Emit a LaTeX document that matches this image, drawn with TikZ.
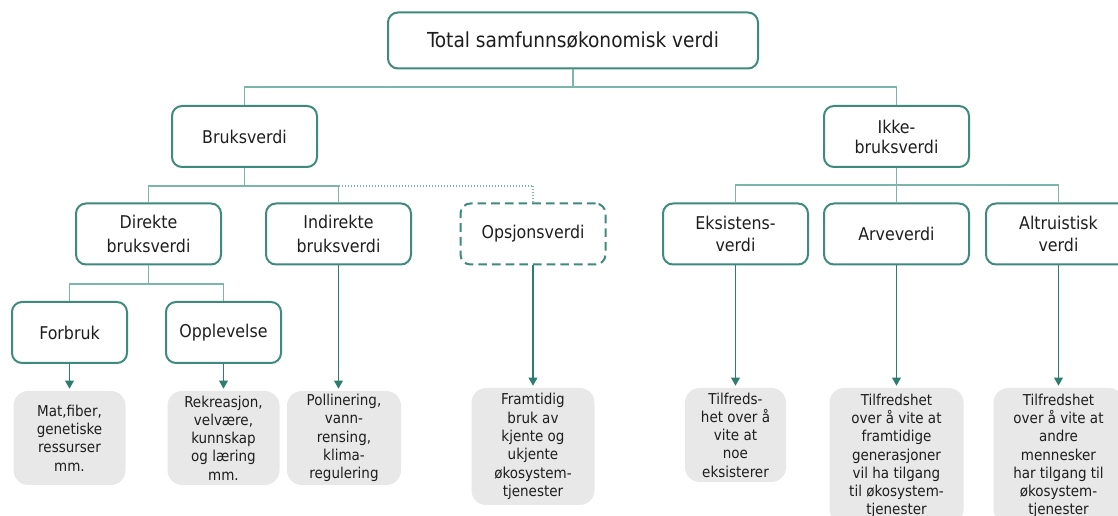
\documentclass[tikz,border=0pt]{standalone}
\usepackage{fontspec}
\IfFontExistsTF{DejaVu Sans Condensed}{\setmainfont{DejaVu Sans Condensed}}{\setmainfont{DejaVu Sans}}
\usetikzlibrary{arrows.meta}
\definecolor{boxc}{RGB}{62,138,124}
\definecolor{linec}{RGB}{125,181,171}
\definecolor{arrc}{RGB}{45,125,110}
\definecolor{grayf}{RGB}{232,232,232}
\definecolor{txt}{RGB}{30,30,30}
\begin{document}
\begin{tikzpicture}[x=0.75pt,y=-0.75pt,
  box/.style={draw=boxc, line width=1.5pt, rounded corners=7.5pt, fill=white, text=txt,
    align=center, inner sep=0pt, minimum width=108.75pt, minimum height=45.75pt,
    font=\fontsize{13.2}{16.5}\selectfont},
  smallbox/.style={box, minimum width=86.25pt},
  optbox/.style={box, dash pattern=on 6.5pt off 3.75pt},
  desc/.style={fill=grayf, rounded corners=11pt, text=txt, align=center, inner sep=0pt,
    font=\fontsize{11.25}{13.7}\selectfont},
  bus/.style={draw=linec, line width=0.9pt},
  dotbus/.style={bus, dash pattern=on 0.75pt off 1.5pt},
  arr/.style={draw=arrc, line width=1pt, -{Triangle[width=6.5pt,length=6pt]}, shorten >=1.5pt}
]
\useasboundingbox (0,0) rectangle (1118,516);
\clip (0,0) rectangle (1118,516);

% bus levels
\coordinate (busA) at (0,87);
\coordinate (busB) at (0,186);
\coordinate (busC) at (0,185);
\coordinate (busD) at (0,284);

% nodes
\node[box, minimum width=277.5pt, minimum height=42pt, font=\fontsize{15.5}{18}\selectfont] (top) at (573,40.5) {Total samfunnsøkonomisk verdi};

\node[box] (bruk) at (244.5,136.5) {Bruksverdi};
\node[box, font=\fontsize{13.2}{15}\selectfont] (ikke) at (896.5,136.5) {Ikke-\\bruksverdi};

\node[box, font=\fontsize{13.2}{18}\selectfont] (dir) at (148.5,234) {Direkte\\bruksverdi};
\node[box, font=\fontsize{13.2}{18}\selectfont] (ind) at (338.5,234) {Indirekte\\bruksverdi};
\node[optbox] (ops) at (533,234) {Opsjonsverdi};
\node[box, font=\fontsize{13.2}{16.5}\selectfont] (eks) at (735.5,234) {Eksistens-\\verdi};
\node[box] (arv) at (896.5,234) {Arveverdi};
\node[box, font=\fontsize{13.2}{16.5}\selectfont] (alt) at (1058.5,234) {Altruistisk\\verdi};

\node[smallbox] (forb) at (69.5,332.5) {Forbruk};
\node[smallbox] (opp) at (223.5,332.5) {Opplevelse};

\node[desc, minimum width=84pt, minimum height=70.5pt] (mat) at (69.5,438) {Mat,fiber,\\genetiske\\ressurser\\mm.};
\node[desc, minimum width=84pt, minimum height=70.5pt] (rek) at (223.5,438) {Rekreasjon,\\velvære,\\kunnskap\\og læring\\mm.};
\node[desc, minimum width=85.5pt, minimum height=70.5pt] (pol) at (344,438) {Pollinering,\\vann-\\rensing,\\klima-\\regulering};
\node[desc, minimum width=92.25pt, minimum height=87.75pt] (fram) at (533,446.5) {Framtidig\\bruk av\\kjente og\\ukjente\\økosystem-\\tjenester};
\node[desc, minimum width=75.75pt, minimum height=70.5pt] (tilf) at (735.5,435) {Tilfreds-\\het over å\\vite at\\noe\\eksisterer};
\node[desc, minimum width=100.5pt, minimum height=102pt] (arvd) at (896.5,456) {Tilfredshet\\over å vite at\\framtidige\\generasjoner\\vil ha tilgang\\til økosystem-\\tjenester};
\node[desc, minimum width=97.5pt, minimum height=102pt] (altd) at (1058.5,456) {Tilfredshet\\over å vite at\\andre\\mennesker\\har tilgang til\\økosystem-\\tjenester};

% tree connectors
\draw[bus] (top.south) -- (top.south |- busA);
\draw[bus] (bruk.north) |- (top.south |- busA) -| (ikke.north);

\draw[bus] (bruk.south) -- (bruk.south |- busB);
\draw[bus] (dir.north) |- (ind.north |- busB) -- (ind.north);
\draw[dotbus] (ind.north |- busB) -| (ops.north);

\draw[bus] (ikke.south) -- (arv.north);
\draw[bus] (eks.north) |- (alt.north |- busC) -- (alt.north);

\draw[bus] (dir.south) -- (dir.south |- busD);
\draw[bus] (forb.north) |- (opp.north |- busD) -- (opp.north);

% arrows
\draw[arr] (forb.south) -- (mat.north);
\draw[arr] (opp.south) -- (rek.north);
\draw[arr] (ind.south) -- (ind.south |- pol.north);
\draw[arr] (ops.south) -- (fram.north);
\draw[arr] (eks.south) -- (tilf.north);
\draw[arr] (arv.south) -- (arvd.north);
\draw[arr] (alt.south) -- (altd.north);
\end{tikzpicture}
\end{document}
